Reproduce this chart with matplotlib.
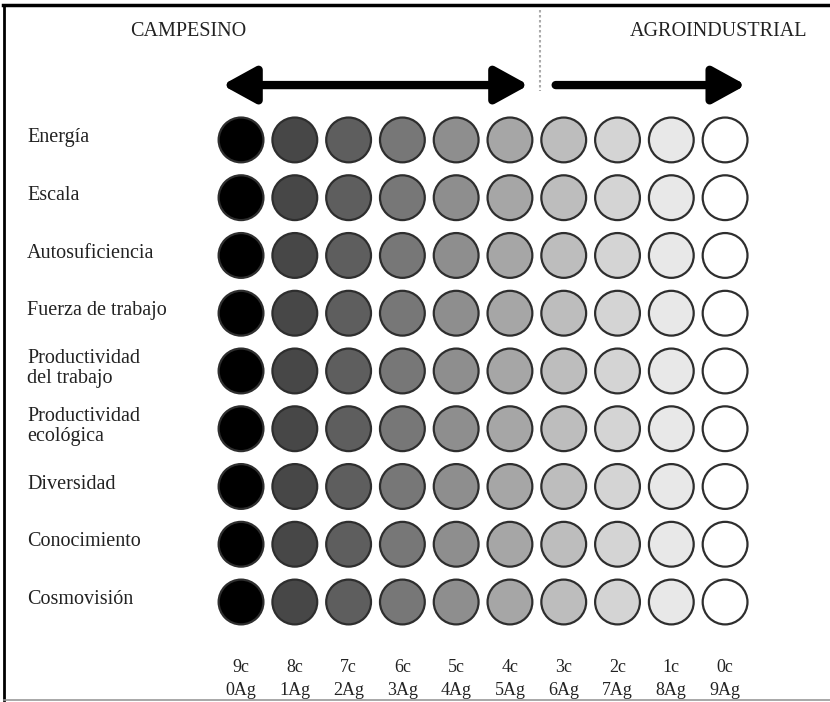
import numpy as np
from matplotlib import pyplot as plt
from matplotlib.lines import Line2D
from matplotlib.transforms import blended_transform_factory

# filas (indicadores) y columnas (gradiente campesino -> agroindustrial)
indicadores = ['Energía', 'Escala', 'Autosuficiencia', 'Fuerza de trabajo',
               'Productividad\ndel trabajo', 'Productividad\necológica',
               'Diversidad', 'Conocimiento', 'Cosmovisión']
campesino = [9, 8, 7, 6, 5, 4, 3, 2, 1, 0]
agro = [0, 1, 2, 3, 4, 5, 6, 7, 8, 9]
grises = ['#000000', '#474747', '#5e5e5e', '#777777', '#8e8e8e',
          '#a6a6a6', '#bdbdbd', '#d4d4d4', '#e8e8e8', '#ffffff']
titulos = ['CAMPESINO', 'AGROINDUSTRIAL']

serif = ['Liberation Serif', 'DejaVu Serif']
plt.rcParams['font.family'] = serif

fig = plt.figure(figsize=(8.3, 7.02), dpi=100)
ax = fig.add_axes([0.258, 0.1013, 0.648, 0.7405])

n_col = len(campesino)
n_row = len(indicadores)
xx, yy = np.meshgrid(np.arange(n_col), np.arange(n_row))
colores = np.array(grises)[xx.ravel()]
ax.scatter(xx.ravel(), yy.ravel(), s=1040, c=colores,
           edgecolors='#2e2e2e', linewidths=1.6, zorder=3, clip_on=False)

ax.set_xlim(-0.5, n_col - 0.5)
ax.set_ylim(n_row - 0.5, -0.5)
ax.axis('off')

# etiquetas de filas
tr = blended_transform_factory(ax.transAxes, ax.transData)
for i, nombre in enumerate(indicadores):
    ax.text(-0.348, i - 0.04, nombre, transform=tr, fontsize=14.5,
            color='#222222', ha='left', va='center', linespacing=1.05)

# etiquetas de columnas
for j in range(n_col):
    ax.text(j, 9.13, '%dc' % campesino[j], fontsize=13, color='#222222',
            ha='center', va='center', clip_on=False)
    ax.text(j, 9.53, '%dAg' % agro[j], fontsize=13, color='#222222',
            ha='center', va='center', clip_on=False)

# títulos, flechas y separador
ax.text(-0.98, -1.87, titulos[0], fontsize=14.5, color='#222222',
        ha='center', va='center', clip_on=False)
ax.text(8.87, -1.87, titulos[1], fontsize=14.5, color='#222222',
        ha='center', va='center', clip_on=False)

flecha = dict(arrowstyle='<|-|>,head_length=2.0,head_width=1.1', lw=6.0,
              color='black', shrinkA=0, shrinkB=0)
ax.annotate('', xy=(5.35, -0.95), xytext=(-0.35, -0.95),
            arrowprops=flecha, annotation_clip=False)
flecha_der = dict(flecha, arrowstyle='-|>,head_length=2.0,head_width=1.1')
ax.annotate('', xy=(9.39, -0.95), xytext=(5.85, -0.95),
            arrowprops=flecha_der, annotation_clip=False)
ax.plot([5.56, 5.56], [-2.25, -0.85], color='#aaaaaa', lw=1.5,
        ls=(0, (1.2, 1.2)), clip_on=False)

# marco
fig.add_artist(Line2D([3 / 830, 1], [1 - 5 / 702, 1 - 5 / 702],
                      color='black', lw=2.5, transform=fig.transFigure))
fig.add_artist(Line2D([4 / 830, 4 / 830], [1 - 5 / 702, 1 - 700 / 702],
                      color='black', lw=2, transform=fig.transFigure))
fig.add_artist(Line2D([4 / 830, 1], [1 - 700 / 702, 1 - 700 / 702],
                      color='#999999', lw=1.2, transform=fig.transFigure))

fig.savefig('out.png', dpi=100)
